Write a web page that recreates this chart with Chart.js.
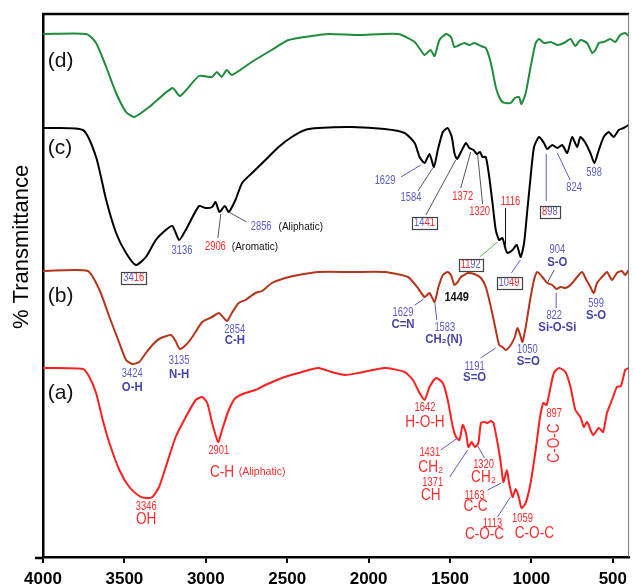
<!DOCTYPE html>
<html>
<head>
<meta charset="utf-8">
<script src="https://cdn.jsdelivr.net/npm/chart.js@4.4.1/dist/chart.umd.min.js"></script>
<style>
  html, body { margin: 0; padding: 0; background: #fff; }
</style>
</head>
<body>
<canvas id="ftir" width="633" height="587"></canvas>
<script>
const tickWn = [4000, 3500, 3000, 2500, 2000, 1500, 1000, 500];

// (d) verde
const dWn = [4000,3733,3674,3612,3551,3490,3439,3348,3205,3158,3042,2963,2932,2903,2871,2840,2718,2596,2492,2351,
  2247,2064,1819,1717,1656,1620,1595,1565,1524,1494,1473,1442,1412,1381,1351,1310,1280,1249,1219,1198,
  1178,1157,1127,1102,1076,1061,1035,1005,974,953,923,882,841,800,760,730,699,658,627,607,586,556,516,485,455,424,403];
const dT = [523,523,514,490,464,445,440,450,469,461,481,480,485,480,487,482,495,507,517,521,
  523,522,523,515,502,507,501,517,523,520,510,512,514,512,514,511,509,494,470,460,
  455,454,454,459,460,453,464,490,514,518,514,515,512,514,518,511,517,514,504,507,514,515,518,515,522,524,521];

// (c) negro
const cWn = [4000,3755,3674,3612,3551,3490,3429,3368,3307,3246,3205,3164,3123,3042,3001,2961,2940,2916,2883,2859,
  2818,2777,2716,2634,2553,2472,2390,2309,2105,1901,1779,1717,1687,1656,1626,1599,1575,1544,1514,1489,
  1473,1457,1433,1402,1381,1355,1335,1316,1300,1280,1259,1239,1219,1198,1178,1157,1147,1116,1090,1066,
  1045,1025,1005,984,953,923,903,872,841,811,780,750,719,699,668,638,613,586,556,525,495,464,434,403];
const cT = [429,427,400,357,324,304,292,300,317,327,331,317,327,351,349,350,355,345,351,345,
  357,374,384,397,410,420,427,429,430,428,424,414,400,394,403,390,407,425,429,420,
  404,398,405,414,409,407,403,405,400,400,380,354,327,317,319,307,304,307,312,300,
  314,347,380,410,420,414,408,412,409,412,404,420,410,420,414,404,394,407,420,425,420,427,429,432];

// (b) rojo oscuro
const bWn = [4000,3725,3653,3592,3531,3490,3450,3409,3368,3328,3287,3215,3189,3160,3123,3083,3022,2961,2920,2895,
  2869,2840,2798,2757,2695,2655,2594,2512,2431,2309,2105,1901,1758,1697,1656,1626,1595,1571,1544,1514,
  1494,1473,1453,1433,1412,1392,1351,1310,1280,1249,1219,1198,1178,1157,1127,1102,1086,1069,1055,1035,
  1008,984,964,933,903,872,846,821,791,760,719,689,662,638,617,597,566,536,505,475,444,424,403];
const bT = [286,286,267,240,214,197,193,195,204,212,218,222,217,208,212,220,235,240,244,240,
  236,244,254,257,264,266,274,279,282,285,285,285,280,269,260,264,255,270,282,285,
  282,272,275,280,282,284,283,279,270,250,227,212,210,207,212,220,229,222,215,230,
  257,277,285,280,274,272,268,270,269,272,280,285,277,270,264,274,280,285,277,284,286,282,287];

// (a) rojo
const aWn = [4000,3755,3715,3674,3633,3592,3531,3470,3409,3368,3328,3287,3246,3185,3123,3062,3022,2991,2961,2924,
  2900,2859,2818,2757,2695,2634,2533,2431,2309,2227,2145,2064,1901,1779,1728,1687,1656,1626,1585,1544,
  1514,1483,1463,1442,1422,1402,1387,1367,1347,1326,1310,1289,1269,1249,1233,1208,1188,1172,1151,1137,
  1116,1096,1076,1061,1035,1005,974,947,927,907,886,862,831,791,760,730,699,678,658,621,586,560,536,505,475,450,424,403];
const aT = [189,188,180,164,137,114,87,70,61,59,60,70,90,120,140,157,160,154,134,115,
  127,147,159,164,167,172,179,184,189,185,182,184,189,185,177,164,157,170,179,174,
  157,130,120,117,132,124,110,115,110,114,134,135,134,136,134,114,94,75,87,74,
  60,68,59,49,54,74,107,140,154,152,167,184,189,185,170,147,140,130,135,122,129,125,144,157,170,171,187,189];

// ── Estilos ───────────────────────────────────────────────────────
const BL = '#5b5bcc', BD = '#4545a8', RD = '#ff2b2b', K = '#111', GR = '#555', GN = '#5cb85c';
const SANS = '"Liberation Sans", Arial, sans-serif';
// fuente, escala horizontal (simula letra estrecha)
const F = {
  num:   ['12px ' + SANS, 0.78],
  tag:   ['bold 12px ' + SANS, 0.95],
  big:   ['17px ' + SANS, 0.8],
  note:  ['10px ' + SANS, 1],
  noteR: ['10.5px ' + SANS, 1],
  curve: ['21px ' + SANS, 1],
  bnum:  ['bold 12px ' + SANS, 0.92],
};

// texto, numero de onda, valor, color, fuente, alineacion
const labels = [
  ['(d)', 3971, 496, K, 'curve', 'left'], ['(c)', 3971, 409, K, 'curve', 'left'],
  ['(b)', 3971, 261, K, 'curve', 'left'], ['(a)', 3971, 164, K, 'curve', 'left'],
  // (c)
  ['2856', 2724, 330, BL, 'num', 'left'], ['(Aliphatic)', 2553, 330, K, 'note', 'left'],
  ['2906', 3005, 310, RD, 'num', 'left'], ['(Aromatic)', 2840, 310, K, 'note', 'left'],
  ['3136', 3146, 306, BL, 'num'], ['1629', 1899, 376, BL, 'num'], ['1584', 1740, 359, BL, 'num'],
  ['1372', 1422, 360, RD, 'num'], ['1320', 1318, 345, RD, 'num'], ['1116', 1129, 355, RD, 'num'],
  ['824', 738, 369, BL, 'num'], ['598', 615, 384, BL, 'num'],
  // (b)
  ['3424', 3452, 183, BL, 'num'], ['O-H', 3452, 169, BD, 'tag'],
  ['3135', 3164, 196, BL, 'num'], ['N-H', 3164, 182, BD, 'tag'],
  ['2854', 2822, 227, BL, 'num'], ['C-H', 2822, 216, BD, 'tag'],
  ['1629', 1789, 244, BL, 'num'], ['C=N', 1789, 232, BD, 'tag'],
  ['1583', 1532, 229, BL, 'num'], ['CH₂(N)', 1538, 217, BD, 'tag'],
  ['1449', 1459, 259, K, 'bnum'],
  ['1191', 1349, 190, BL, 'num'], ['S=O', 1349, 179, BD, 'tag'],
  ['1050', 1025, 207, BL, 'num'], ['S=O', 1019, 195, BD, 'tag'],
  ['904', 841, 307, BL, 'num'], ['S-O', 841, 294, BD, 'tag'],
  ['822', 860, 241, BL, 'num'], ['Si-O-Si', 841, 229, BD, 'tag'],
  ['599', 603, 253, BL, 'num'], ['S-O', 603, 241, BD, 'tag'],
  // (a)
  ['3346', 3366, 50, RD, 'num'], ['OH', 3366, 38, RD, 'big'],
  ['2901', 2920, 106, RD, 'num'], ['C-H', 2975, 85, RD, 'big', 'left'], ['(Aliphatic)', 2798, 85, RD, 'noteR', 'left'],
  ['1642', 1654, 149, RD, 'num'], ['H-O-H', 1654, 135, RD, 'big'],
  ['1431', 1624, 104, RD, 'num'], ['CH₂', 1618, 90, RD, 'big'],
  ['1371', 1606, 74, RD, 'num'], ['CH', 1618, 62, RD, 'big'],
  ['1320', 1294, 92, RD, 'num'], ['CH₂', 1294, 80, RD, 'big'],
  ['1163', 1349, 61, RD, 'num'], ['C-C', 1343, 51, RD, 'big'],
  ['1113', 1239, 33, RD, 'num'], ['C-O-C', 1288, 23, RD, 'big'],
  ['1059', 1055, 38, RD, 'num'], ['C-O-C', 982, 24, RD, 'big'],
  ['897', 860, 143, RD, 'num'],
];

// etiquetas con recuadro (segmentos de dos colores)
const boxes = [
  [[['34', BL], ['16', RD]], 3443, 279],
  [[['14', BL], ['41', RD]], 1657, 334],
  [[['11', RD], ['92', BL]], 1373, 292],
  [[['10', BL], ['49', RD]], 1138, 274],
  [[['8', RD], ['98', BL]], 887, 345],
];

// lineas guia: wn1, v1, wn2, v2, color
const leaders = [
  [2859, 345, 2749, 335, GR], [2908, 343, 2926, 319, GR],
  [1801, 380, 1679, 392, BL], [1697, 366, 1606, 389, GR], [1648, 342, 1465, 397, GR],
  [1434, 369, 1373, 405, GR], [1300, 353, 1330, 402, GR], [1159, 349, 1159, 307, K],
  [1318, 300, 1208, 315, GN], [1123, 284, 1068, 297, BL], [909, 403, 909, 356, BL], [841, 404, 762, 377, BL],
  [1716, 252, 1661, 258, BL], [1581, 237, 1593, 254, BL], [1312, 199, 1220, 209, BL],
  [860, 287, 903, 274, GR], [848, 264, 848, 249, BL],
  [1557, 107, 1453, 119, BL], [1502, 80, 1392, 107, BL], [1330, 111, 1288, 99, BL],
  [1269, 67, 1184, 74, BL], [1208, 40, 1129, 60, BL],
];

function txt(ctx, t, px, py, key, color, align, rot) {
  const [font, sx] = F[key];
  ctx.save();
  ctx.translate(px, py);
  if (rot) ctx.rotate(rot);
  ctx.scale(sx, 1);
  ctx.font = font;
  ctx.fillStyle = color;
  ctx.textAlign = align || 'center';
  ctx.textBaseline = 'middle';
  ctx.fillText(t, 0, 0);
  ctx.restore();
}

// ── Plugin de anotaciones ─────────────────────────────────────────
const annot = {
  id: 'annot',
  afterDatasetsDraw(chart) {
    const { ctx, chartArea: ca, scales: { x, y } } = chart;
    ctx.save();
    // marco superior, derecho y prolongacion del eje X
    ctx.strokeStyle = '#000';
    ctx.lineWidth = 2.5;
    ctx.beginPath(); ctx.moveTo(ca.left - 1, ca.top); ctx.lineTo(ca.right, ca.top); ctx.stroke();
    ctx.beginPath(); ctx.moveTo(ca.left - 8, ca.bottom + 1); ctx.lineTo(ca.left, ca.bottom + 1); ctx.stroke();
    ctx.lineWidth = 1; ctx.strokeStyle = '#777';
    ctx.beginPath(); ctx.moveTo(ca.right - 0.5, ca.top); ctx.lineTo(ca.right - 0.5, ca.bottom); ctx.stroke();

    ctx.lineWidth = 1;
    leaders.forEach(([w1, v1, w2, v2, c]) => {
      ctx.strokeStyle = c;
      ctx.beginPath();
      ctx.moveTo(x.getPixelForValue(w1), y.getPixelForValue(v1));
      ctx.lineTo(x.getPixelForValue(w2), y.getPixelForValue(v2));
      ctx.stroke();
    });

    labels.forEach(([t, w, v, c, f, a]) => txt(ctx, t, x.getPixelForValue(w), y.getPixelForValue(v), f, c, a));
    txt(ctx, 'C-O-C', x.getPixelForValue(860), y.getPixelForValue(114), 'big', RD, 'center', -Math.PI / 2);

    // recuadros
    const [nf, nsx] = F.num;
    ctx.font = nf;
    boxes.forEach(([segs, w, v]) => {
      const full = segs.map(s => s[0]).join('');
      const tw = ctx.measureText(full).width * nsx;
      const cx = x.getPixelForValue(w), cy = y.getPixelForValue(v);
      let px = cx - tw / 2;
      segs.forEach(([t, c]) => {
        txt(ctx, t, px, cy, 'num', c, 'left');
        ctx.font = nf;
        px += ctx.measureText(t).width * nsx;
      });
      ctx.strokeStyle = '#444'; ctx.lineWidth = 1.2;
      ctx.strokeRect(Math.round(cx - tw / 2 - 2) + 0.5, Math.round(cy - 6) + 0.5, Math.round(tw + 4), 12);
    });

    // titulo del eje Y
    ctx.save();
    ctx.translate(28, 247);
    ctx.rotate(-Math.PI / 2);
    ctx.font = '22px ' + SANS;
    ctx.fillStyle = '#000'; ctx.textAlign = 'center'; ctx.textBaseline = 'alphabetic';
    ctx.fillText('% Transmittance', 0, 0);
    ctx.restore();
    ctx.restore();
  }
};

const mk = (wn, t, color) => ({
  data: wn.map((w, i) => ({ x: w, y: t[i] })),
  borderColor: color, borderWidth: 2, pointRadius: 0, tension: 0.2, fill: false,
});

new Chart(document.getElementById('ftir'), {
  type: 'line',
  data: {
    datasets: [
      mk(dWn, dT, '#1f8b3b'),
      mk(cWn, cT, '#000000'),
      mk(bWn, bT, '#b5351b'),
      mk(aWn, aT, '#ff1f1f'),
    ],
  },
  options: {
    responsive: false, animation: false, devicePixelRatio: 1,
    layout: { autoPadding: false, padding: { left: 43, top: 14, right: 0, bottom: 0 } },
    plugins: { legend: { display: false }, tooltip: { enabled: false } },
    scales: {
      x: {
        type: 'linear', reverse: true, min: 400, max: 4000,
        afterBuildTicks: s => { s.ticks = tickWn.map(v => ({ value: v })); },
        afterFit: s => { s.height = 30; },
        grid: { display: true, drawOnChartArea: false, drawTicks: true, tickLength: 6, color: '#000', lineWidth: 2 },
        border: { display: true, color: '#000', width: 2.5 },
        ticks: {
          color: '#000', padding: 6, maxRotation: 0,
          font: { family: SANS, size: 17, weight: 'bold' },
          callback: v => String(v),
        },
      },
      y: {
        min: 0, max: 543,
        afterFit: s => { s.width = 0; },
        grid: { display: false },
        border: { display: true, color: '#000', width: 2.5 },
        ticks: { display: false },
      },
    },
  },
  plugins: [annot],
});
</script>
</body>
</html>
